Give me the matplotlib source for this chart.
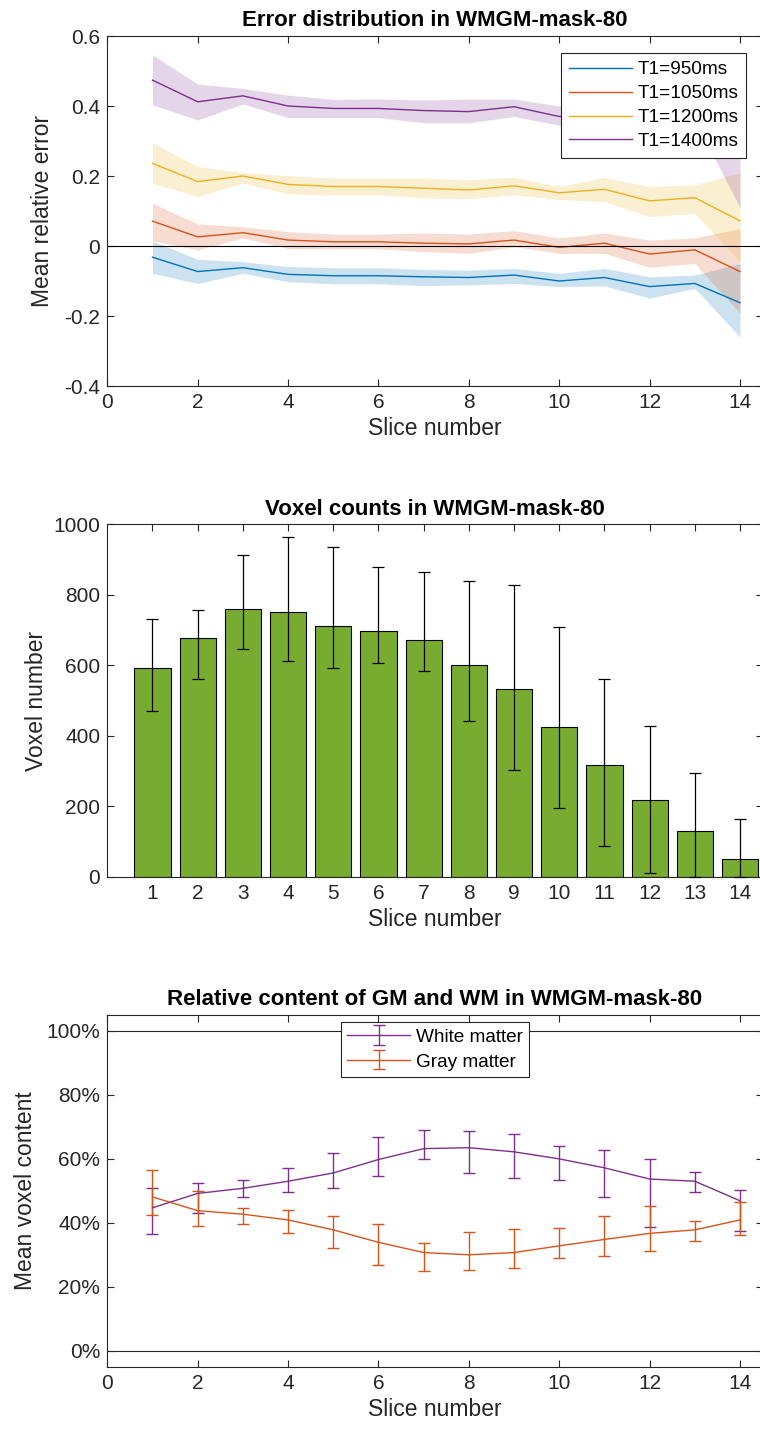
import matplotlib
matplotlib.use("Agg")
import matplotlib.pyplot as plt
import numpy as np
from matplotlib.ticker import FuncFormatter

plt.rcParams['font.family'] = ['Liberation Sans', 'DejaVu Sans']

# ---- data ----
slices = np.arange(1, 15)

t1_labels = ['T1=950ms', 'T1=1050ms', 'T1=1200ms', 'T1=1400ms']
err_950 = [-0.032, -0.073, -0.062, -0.081, -0.085, -0.085, -0.088, -0.090, -0.083, -0.100, -0.090, -0.116, -0.107, -0.162]
err_950_lo = [-0.078, -0.107, -0.078, -0.102, -0.108, -0.108, -0.113, -0.111, -0.107, -0.116, -0.114, -0.149, -0.121, -0.26]
err_950_hi = [0.014, -0.038, -0.045, -0.059, -0.062, -0.062, -0.067, -0.069, -0.064, -0.078, -0.064, -0.088, -0.083, -0.05]
err_1050 = [0.071, 0.026, 0.038, 0.017, 0.012, 0.012, 0.008, 0.006, 0.017, -0.004, 0.008, -0.023, -0.011, -0.073]
err_1050_lo = [0.015, -0.011, 0.023, -0.007, -0.008, -0.008, -0.016, -0.021, -0.002, -0.021, -0.021, -0.061, -0.05, -0.192]
err_1050_hi = [0.122, 0.063, 0.055, 0.041, 0.034, 0.034, 0.037, 0.034, 0.044, 0.023, 0.037, 0.017, 0.023, 0.05]
err_1200 = [0.236, 0.184, 0.200, 0.176, 0.170, 0.170, 0.165, 0.160, 0.172, 0.152, 0.162, 0.129, 0.138, 0.072]
err_1200_lo = [0.179, 0.141, 0.180, 0.149, 0.146, 0.146, 0.137, 0.135, 0.146, 0.133, 0.127, 0.084, 0.093, -0.045]
err_1200_hi = [0.295, 0.227, 0.210, 0.201, 0.194, 0.194, 0.194, 0.189, 0.196, 0.170, 0.196, 0.170, 0.175, 0.209]
err_1400 = [0.474, 0.412, 0.429, 0.400, 0.393, 0.393, 0.387, 0.384, 0.398, 0.370, 0.370, 0.350, 0.385, 0.260]
err_1400_lo = [0.403, 0.360, 0.406, 0.367, 0.367, 0.367, 0.352, 0.352, 0.370, 0.345, 0.340, 0.320, 0.360, 0.110]
err_1400_hi = [0.546, 0.463, 0.450, 0.431, 0.419, 0.420, 0.417, 0.420, 0.420, 0.400, 0.400, 0.380, 0.410, 0.410]

voxel_counts = [592, 677, 761, 752, 711, 697, 673, 602, 534, 424, 316, 217, 130, 49]
voxel_hi = [732, 758, 912, 963, 935, 879, 866, 838, 827, 708, 560, 427, 293, 165]
voxel_lo = [470, 560, 647, 613, 592, 606, 584, 442, 302, 194, 87, 10, 0, 0]

wm_mean = [44.7, 49.2, 50.8, 53.0, 55.6, 59.8, 63.2, 63.5, 62.2, 60.0, 57.2, 53.7, 53.0, 46.9]
wm_lo = [36.4, 43.2, 48.2, 49.5, 50.8, 54.6, 59.9, 55.6, 53.9, 53.4, 48.0, 38.6, 49.5, 37.4]
wm_hi = [50.8, 52.5, 53.3, 57.2, 61.7, 66.9, 69.0, 68.6, 67.7, 64.0, 62.9, 59.9, 55.8, 50.4]
gm_mean = [48.1, 43.8, 42.7, 40.9, 37.8, 33.9, 30.7, 30.0, 30.7, 32.8, 34.8, 36.7, 37.8, 40.9]
gm_lo = [42.4, 39.0, 39.5, 36.7, 32.2, 26.8, 25.0, 25.3, 25.8, 29.1, 29.6, 31.3, 34.4, 36.2]
gm_hi = [56.5, 50.0, 44.7, 44.0, 42.1, 39.5, 33.8, 37.2, 38.0, 38.3, 42.1, 45.2, 40.6, 46.6]

# matlab default colour order
c_blue, c_orange, c_yellow, c_purple = '#0072BD', '#D95319', '#EDB120', '#7E2F8E'
c_green = '#77AC30'
axcol = '#262626'

TICK_FS = 15
LABEL_FS = 16.5
TITLE_FS = 16


def style_axes(ax):
    for s in ax.spines.values():
        s.set_color(axcol)
        s.set_linewidth(0.8)
    ax.tick_params(direction='in', top=True, right=True, length=5, width=0.8,
                   colors=axcol, labelsize=TICK_FS, pad=5)


def num_fmt(v, pos):
    return ('%g' % round(v, 6))


fig = plt.figure(figsize=(7.6, 14.34), dpi=100)
W, H = 760.0, 1434.0
left = 107.3 / W
width = 655.3 / W

# ---- top: error bands ----
ax1 = fig.add_axes([left, 1 - 386 / H, width, 350 / H])
series = [
    (err_950, err_950_lo, err_950_hi, c_blue),
    (err_1050, err_1050_lo, err_1050_hi, c_orange),
    (err_1200, err_1200_lo, err_1200_hi, c_yellow),
    (err_1400, err_1400_lo, err_1400_hi, c_purple),
]
handles = []
for (m, lo, hi, col), lab in zip(series, t1_labels):
    ax1.fill_between(slices, lo, hi, color=col, alpha=0.2, linewidth=0)
    h, = ax1.plot(slices, m, color=col, linewidth=1.0, label=lab)
    handles.append(h)
ax1.axhline(0, color='black', linewidth=0.8)
ax1.set_xlim(0, 14.5)
ax1.set_ylim(-0.4, 0.6)
ax1.set_xticks(np.arange(0, 15, 2))
ax1.set_yticks(np.arange(-0.4, 0.61, 0.2))
ax1.yaxis.set_major_formatter(FuncFormatter(num_fmt))
style_axes(ax1)
ax1.set_title('Error distribution in WMGM-mask-80', fontsize=TITLE_FS,
              fontweight='bold', pad=7)
ax1.set_xlabel('Slice number', fontsize=LABEL_FS, color=axcol, labelpad=4)
ax1.set_ylabel('Mean relative error', fontsize=LABEL_FS, color=axcol)
ax1.yaxis.set_label_coords(-0.082, 0.5)
leg1 = ax1.legend(handles=handles, loc='upper right',
                  bbox_to_anchor=(0.9747, 0.9506), fontsize=13.7,
                  fancybox=False, framealpha=1, edgecolor=axcol,
                  handlelength=3.3, handletextpad=0.3, borderaxespad=0,
                  labelspacing=0.35, borderpad=0.4)
leg1.get_frame().set_linewidth(0.8)

# ---- middle: voxel counts ----
ax2 = fig.add_axes([left, 1 - 876.7 / H, width, 352.4 / H])
counts = np.array(voxel_counts)
yerr = [counts - np.array(voxel_lo), np.array(voxel_hi) - counts]
ax2.bar(slices, counts, width=0.8, color=c_green, edgecolor='black',
        linewidth=0.8, zorder=2)
ax2.errorbar(slices, counts, yerr=yerr, fmt='none', ecolor='black',
             elinewidth=0.9, capsize=4.3, capthick=0.9, zorder=3,
             clip_on=False)
ax2.set_xlim(0, 14.5)
ax2.set_ylim(0, 1000)
ax2.set_xticks(slices)
ax2.set_yticks(np.arange(0, 1001, 200))
style_axes(ax2)
ax2.set_title('Voxel counts in WMGM-mask-80', fontsize=TITLE_FS,
              fontweight='bold', pad=7)
ax2.set_xlabel('Slice number', fontsize=LABEL_FS, color=axcol, labelpad=4)
ax2.set_ylabel('Voxel number', fontsize=LABEL_FS, color=axcol)
ax2.yaxis.set_label_coords(-0.09, 0.5)

# ---- bottom: GM / WM content ----
ax3 = fig.add_axes([left, 1 - 1366.7 / H, width, 351.7 / H])
wm = np.array(wm_mean)
gm = np.array(gm_mean)
ax3.axhline(0, color=axcol, linewidth=0.8)
ax3.axhline(100, color=axcol, linewidth=0.8)
ax3.errorbar(slices, wm, yerr=[wm - np.array(wm_lo), np.array(wm_hi) - wm],
             color=c_purple, linewidth=1.0, elinewidth=1.0, capsize=4.3,
             capthick=1.0, label='White matter')
ax3.errorbar(slices, gm, yerr=[gm - np.array(gm_lo), np.array(gm_hi) - gm],
             color=c_orange, linewidth=1.0, elinewidth=1.0, capsize=4.3,
             capthick=1.0, label='Gray matter')
ax3.set_xlim(0, 14.5)
ax3.set_ylim(-5, 105)
ax3.set_xticks(np.arange(0, 15, 2))
ax3.set_yticks(np.arange(0, 101, 20))
ax3.yaxis.set_major_formatter(FuncFormatter(lambda v, p: '%d%%' % v))
style_axes(ax3)
ax3.set_title('Relative content of GM and WM in WMGM-mask-80',
              fontsize=TITLE_FS, fontweight='bold', pad=7)
ax3.set_xlabel('Slice number', fontsize=LABEL_FS, color=axcol, labelpad=4)
ax3.set_ylabel('Mean voxel content', fontsize=LABEL_FS, color=axcol)
ax3.yaxis.set_label_coords(-0.107, 0.5)
leg3 = ax3.legend(loc='upper center', bbox_to_anchor=(0.5, 0.981),
                  fontsize=13.7, fancybox=False, framealpha=1,
                  edgecolor=axcol, handlelength=3.3, handletextpad=0.3,
                  borderaxespad=0, labelspacing=0.4, borderpad=0.35)
leg3.get_frame().set_linewidth(0.8)

fig.savefig('out.png', dpi=100)
